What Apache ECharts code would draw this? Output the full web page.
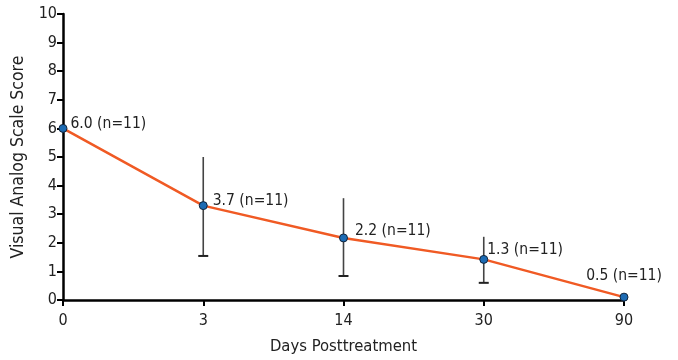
<!DOCTYPE html>
<html>
<head>
<meta charset="utf-8">
<script src="https://cdn.jsdelivr.net/npm/echarts@6/dist/echarts.min.js"></script>
<style>html,body{margin:0;padding:0;background:#fff}#chart{width:678px;height:360px}</style>
</head>
<body>
<div id="chart"></div>
<script>
var days = ["0", "3", "14", "30", "90"];
var scores = [6.0, 3.3, 2.17, 1.42, 0.1];
var errLow = [null, 1.54, 0.84, 0.6, null];
var errHigh = [null, 5.0, 3.56, 2.21, null];
var labels = ["6.0 (n=11)", "3.7 (n=11)", "2.2 (n=11)", "1.3 (n=11)", "0.5 (n=11)"];
var labelPos = [
    {position: "right", offset: [-2, -4]},
    {position: "right", offset: [0, -5]},
    {position: "right", offset: [2, -7]},
    {position: "right", offset: [-6, -9]},
    {position: "top", offset: [0, -4]}
];

var font = "'DejaVu Sans Condensed', 'Liberation Sans Narrow', Arial, sans-serif";
var chart = echarts.init(document.getElementById("chart"));

var lineData = scores.map(function(v, i) {
    return {value: v, label: Object.assign({show: true, formatter: labels[i]}, labelPos[i])};
});
var errData = [];
days.forEach(function(d, i) { if (errLow[i] != null) errData.push([i, errLow[i], errHigh[i]]) });

chart.setOption({
    animation: false,
    textStyle: {fontFamily: font},
    grid: {left: 63, right: 54, top: 14, bottom: 60, containLabel: false, outerBoundsMode: "none"},
    xAxis: {
        type: "category", data: days, boundaryGap: false,
        name: "Days Posttreatment", nameLocation: "middle", nameGap: 38,
        nameTextStyle: {fontSize: 16.5, color: "#222", fontFamily: font},
        axisLine: {lineStyle: {color: "#000", width: 2.5}},
        axisTick: {show: true, alignWithLabel: true, length: 6, lineStyle: {color: "#000", width: 2}},
        axisLabel: {fontSize: 16, color: "#222", margin: 13, fontFamily: font}
    },
    yAxis: {
        type: "value", min: 0, max: 10, interval: 1,
        name: "Visual Analog Scale Score", nameLocation: "middle", nameGap: 31, nameRotate: 90,
        nameTextStyle: {fontSize: 17.5, color: "#222", fontFamily: font},
        axisLine: {show: true, lineStyle: {color: "#000", width: 2.5}},
        axisTick: {show: true, length: 6, lineStyle: {color: "#000", width: 2}},
        axisLabel: {fontSize: 16, color: "#222", margin: 6, fontFamily: font},
        splitLine: {show: false}
    },
    series: [{
        type: "custom",
        data: errData,
        z: 1,
        renderItem: function(params, api) {
            var lo = api.coord([api.value(0), api.value(1)]);
            var hi = api.coord([api.value(0), api.value(2)]);
            return {type: "group", children: [
                {type: "line", shape: {x1: lo[0], y1: lo[1], x2: hi[0], y2: hi[1]}, style: {stroke: "#444", lineWidth: 1.6}},
                {type: "line", shape: {x1: lo[0] - 5, y1: lo[1], x2: lo[0] + 5, y2: lo[1]}, style: {stroke: "#222", lineWidth: 2}}
            ]};
        }
    }, {
        type: "line",
        data: lineData,
        z: 3,
        symbol: "circle", symbolSize: 8,
        lineStyle: {color: "#f05a24", width: 2.5},
        itemStyle: {color: "#1d6bb3", borderColor: "#10233a", borderWidth: 1},
        label: {fontSize: 15.5, color: "#222", fontFamily: font}
    }]
});
</script>
</body>
</html>
